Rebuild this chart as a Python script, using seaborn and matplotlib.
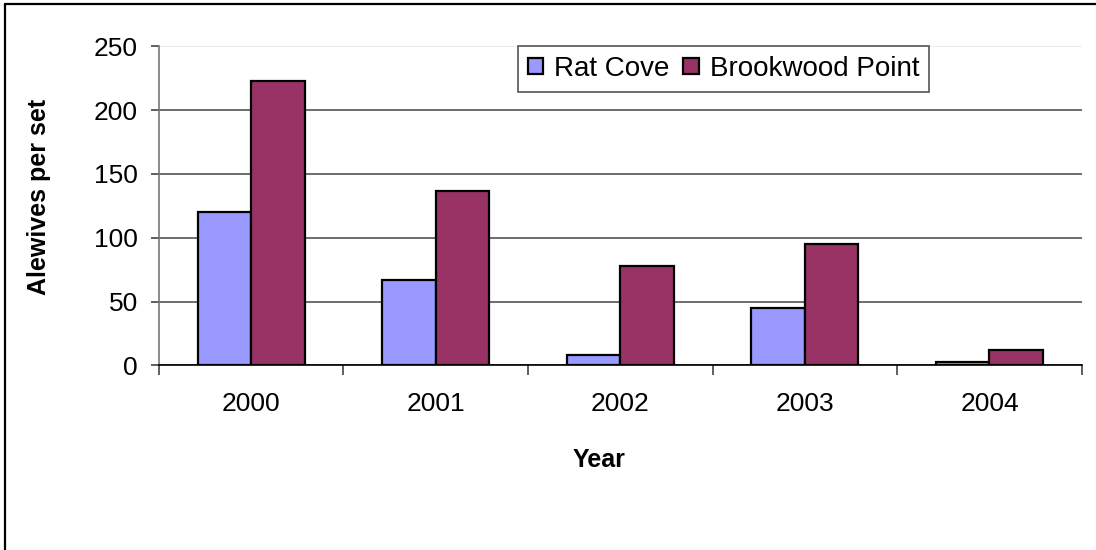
"""
Alewives per set at Rat Cove and Brookwood Point, 2000-2004.
"""

import matplotlib.pyplot as plt
import pandas as pd
import seaborn as sns
from matplotlib.lines import Line2D

years = ["2000", "2001", "2002", "2003", "2004"]
rat_cove = [120, 67, 8, 45, 3]
brookwood_point = [223, 137, 78, 95, 12]
sites = ["Rat Cove", "Brookwood Point"]
y_ticks = [0, 50, 100, 150, 200, 250]

df = pd.DataFrame(
    {
        "Year": years * 2,
        "Alewives per set": rat_cove + brookwood_point,
        "Site": [sites[0]] * len(years) + [sites[1]] * len(years),
    }
)

sns.set_theme(style="white")
plt.rcParams.update(
    {
        "font.family": ["Liberation Sans", "DejaVu Sans"],
        "text.color": "black",
        "axes.labelcolor": "black",
        "xtick.color": "black",
        "ytick.color": "black",
    }
)

fig = plt.figure(figsize=(10.96, 5.5), dpi=100)
ax = fig.add_axes([0.145, 0.3355, 0.842, 0.5805])

sns.barplot(
    data=df,
    x="Year",
    y="Alewives per set",
    hue="Site",
    palette=["#9999FF", "#993366"],
    width=0.58,
    gap=0,
    edgecolor="black",
    linewidth=1.6,
    saturation=1,
    ax=ax,
)

ax.set_ylim(0, 250)
ax.set_xlim(-0.5, len(years) - 0.5)
ax.set_yticks(y_ticks)
ax.yaxis.grid(True, color="#555555", linewidth=1.2)
ax.set_axisbelow(True)
ax.get_ygridlines()[-1].set_color("#e8e8e8")

# Excel-like axes: gray left spine, black base, ticks between categories
for side in ["top", "right"]:
    ax.spines[side].set_visible(False)
ax.spines["left"].set_color("#777777")
ax.spines["bottom"].set_color("black")
ax.spines["left"].set_linewidth(1.2)
ax.spines["bottom"].set_linewidth(1.2)
ax.set_xticks([i - 0.5 for i in range(len(years) + 1)], minor=True)
ax.tick_params(axis="x", which="major", length=0, labelsize=19, pad=19)
ax.tick_params(axis="x", which="minor", length=7, width=1.2, color="#444444", bottom=True)
ax.tick_params(axis="y", length=6, width=1.2, color="#444444", labelcolor="black",
               labelsize=19, left=True, pad=9)

ax.set_xlabel("Year", fontsize=18, fontweight="bold")
ax.xaxis.set_label_coords(0.477, -0.258)
ax.set_ylabel("Alewives per set", fontsize=18, fontweight="bold")
ax.yaxis.set_label_coords(-0.117, 0.527)

handles, labels = ax.get_legend_handles_labels()
ax.legend(
    handles,
    labels,
    loc="upper left",
    bbox_to_anchor=(0.389, 1.0),
    ncol=2,
    frameon=True,
    fancybox=False,
    edgecolor="#555555",
    framealpha=1,
    fontsize=20,
    handlelength=0.55,
    handleheight=0.55,
    handletextpad=0.4,
    columnspacing=0.5,
    borderpad=0.35,
    borderaxespad=0,
)
ax.get_legend().get_frame().set_linewidth(1.2)

# Chart-area border (top and left edges only)
fig.add_artist(Line2D([0.0046, 1.0], [0.993, 0.993], color="black", linewidth=1.6))
fig.add_artist(Line2D([0.0046, 0.0046], [0.0, 0.993], color="black", linewidth=1.6))

fig.savefig("out.png", dpi=100)
